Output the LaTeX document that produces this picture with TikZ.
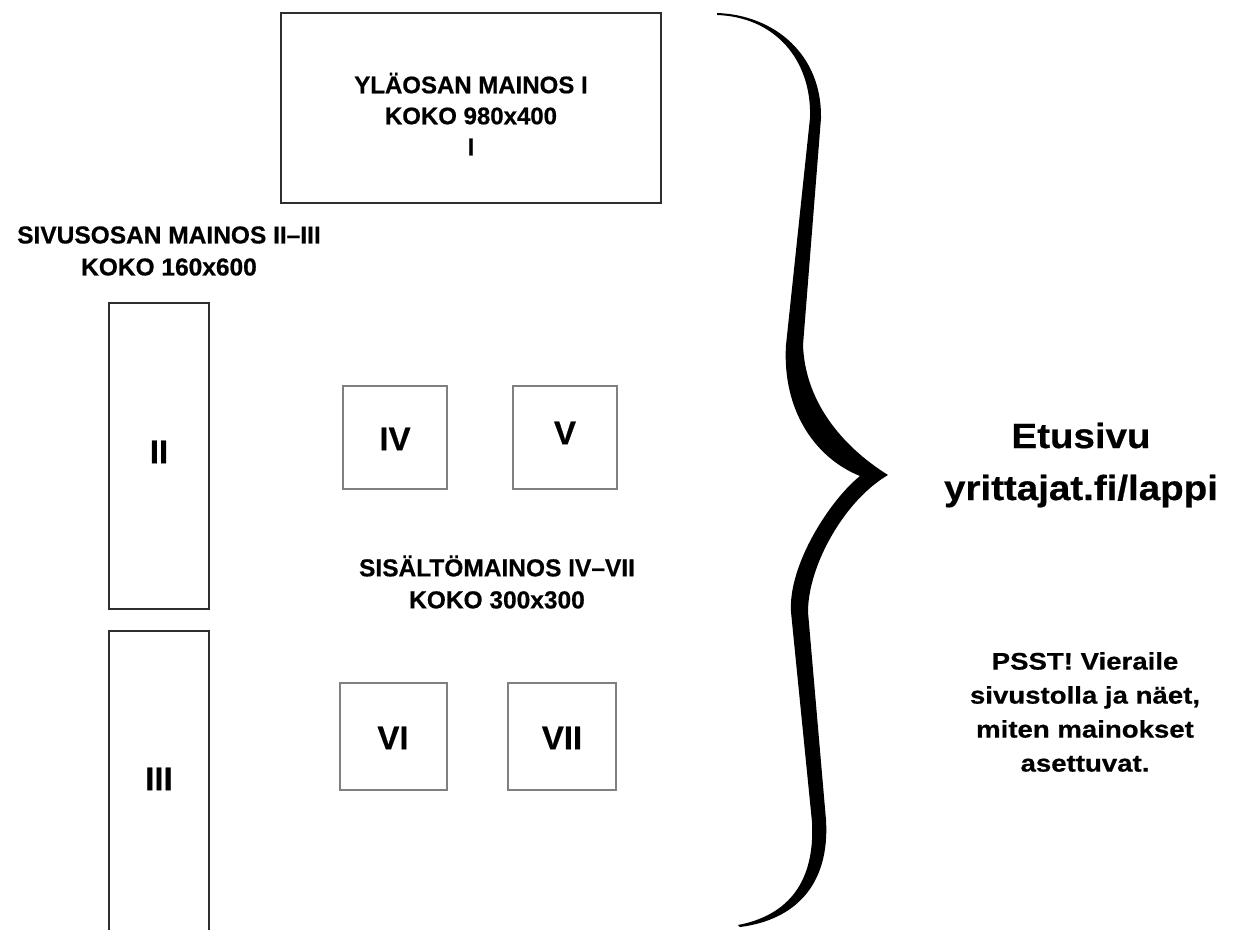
\documentclass[tikz,border=0pt]{standalone}
\usepackage{fontspec}
\setmainfont{Liberation Sans}[BoldFeatures={FakeBold=0.6}]
\newfontfamily\widefont{Liberation Sans}[FakeStretch=1.15,BoldFeatures={FakeBold=0.6}]
\newfontfamily\midfont{Liberation Sans}[FakeStretch=1.1,BoldFeatures={FakeBold=0.6}]
\begin{document}
\begin{tikzpicture}[x=1pt,y=-1pt,
  bigbox/.style={draw=black!82,line width=2pt,inner sep=0pt},
  sqbox/.style={draw=black!50,line width=1.1pt,inner sep=0pt,minimum width=104pt,minimum height=103pt},
  capstext/.style={align=center,inner sep=0pt,font=\bfseries\fontsize{24.5}{32}\selectfont},
  numtext/.style={inner sep=0pt,font=\bfseries\fontsize{33}{36}\selectfont},
  bracefill/.style={fill=black,draw=none}]
\useasboundingbox (0,0) rectangle (1241,929);
\clip (0,0) rectangle (1241,929);
% top banner
\node[bigbox,line width=1.6pt,minimum width=380pt,minimum height=190pt] (topbox) at (471,108) {};
\node[capstext,font=\bfseries\fontsize{24}{31}\selectfont] (toptext) at (471,114) {YLÄOSAN MAINOS I\\KOKO 980x400\\I};
% side banners
\node[capstext] (sidetitle) at (169,251) {SIVUSOSAN MAINOS II--III\\KOKO 160x600};
\node[bigbox,minimum width=100pt,minimum height=306pt] (boxII) at (159,456) {};
\node[numtext] (txtII) at (159,452) {II};
\draw[draw=black!82,line width=2pt] (109,631) rectangle (209,960);
\node[numtext] (txtIII) at (159,779) {III};
% content squares
\node[sqbox] (boxIV) at (395,437.5) {};
\node[numtext] (txtIV) at (395,439) {IV};
\node[sqbox] (boxV) at (565,437.5) {};
\node[numtext] (txtV) at (565,433) {V};
\node[capstext] (midtitle) at (497,582) {SISÄLTÖMAINOS IV--VII\\KOKO 300x300};
\node[sqbox,minimum width=107pt,minimum height=107pt] (boxVI) at (393.5,736.5) {};
\node[numtext] (txtVI) at (393,738) {VI};
\node[sqbox,minimum width=108pt,minimum height=107pt] (boxVII) at (562,736.5) {};
\node[numtext] (txtVII) at (562,738) {VII};
% brace
\fill[bracefill] (717,13)
 .. controls (775,15) and (822,55) .. (821,118)
 -- (803,345)
 .. controls (805,400) and (840,445) .. (888,475)
 .. controls (845,500) and (808,565) .. (808,612)
 -- (826,820)
 .. controls (830,885) and (795,920) .. (740,927)
 -- (738,925)
 .. controls (790,915) and (815,880) .. (812,822)
 -- (791,612)
 .. controls (788,565) and (830,500) .. (860,476)
 .. controls (815,458) and (782,410) .. (786,345)
 -- (810,118)
 .. controls (812,60) and (775,17) .. (717,15)
 -- cycle;
% right texts
\node[align=center,inner sep=0pt,font=\midfont\bfseries\fontsize{35}{52}\selectfont] (site) at (1081,465) {Etusivu\\yrittajat.fi/lappi};
\node[align=center,inner sep=0pt,font=\widefont\bfseries\fontsize{24}{34}\selectfont] (psst) at (1085,712) {PSST! Vieraile\\sivustolla ja näet,\\miten mainokset\\asettuvat.};
\end{tikzpicture}
\end{document}
